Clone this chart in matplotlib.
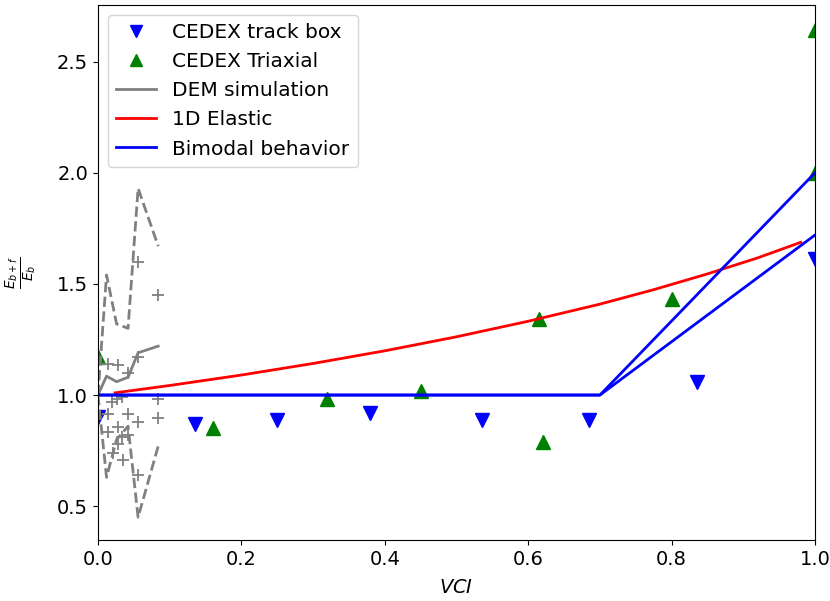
import numpy as np
import matplotlib
matplotlib.use('Agg')
import matplotlib.pyplot as plt

# CEDEX measurements
track_vci = [0.0, 0.135, 0.25, 0.38, 0.535, 0.685, 0.835, 1.0]
track_ratio = [0.90, 0.87, 0.89, 0.92, 0.89, 0.89, 1.06, 1.61]
triax_vci = [0.0, 0.16, 0.32, 0.45, 0.615, 0.62, 0.80, 1.0, 1.0]
triax_ratio = [1.17, 0.85, 0.98, 1.02, 1.34, 0.79, 1.43, 2.0, 2.64]

# DEM simulation: mean and std
dem_vci = [0.0, 0.012, 0.026, 0.042, 0.056, 0.084]
dem_mean = [1.0, 1.085, 1.06, 1.08, 1.19, 1.22]
dem_std = [0.0, 0.455, 0.26, 0.22, 0.74, 0.45]
# DEM single runs
dem_runs_vci = [0.014, 0.028, 0.042, 0.056, 0.084, 0.056,
                0.019, 0.026, 0.033, 0.084, 0.014, 0.042, 0.056, 0.084,
                0.014, 0.028, 0.033, 0.042, 0.028, 0.021, 0.035, 0.056]
dem_runs_ratio = [1.14, 1.135, 1.10, 1.17, 1.45, 1.60,
                  0.97, 0.98, 0.99, 0.98, 0.915, 0.915, 0.88, 0.895,
                  0.835, 0.855, 0.81, 0.82, 0.78, 0.74, 0.71, 0.64]

# 1D elastic model
elastic_vci = [0.024, 0.1, 0.2, 0.3, 0.4, 0.5, 0.6, 0.7, 0.775, 0.85, 0.92, 0.98]
elastic_ratio = [1.010, 1.043, 1.090, 1.142, 1.199, 1.262, 1.332, 1.409, 1.474, 1.545, 1.617, 1.687]

# bimodal behaviour
bimodal_vci = [0.0, 0.7, 1.0]
bimodal_hi = [1.0, 1.0, 2.0]
bimodal_lo = [1.0, 1.0, 1.72]

plt.rcParams['font.size'] = 14

fig = plt.figure(figsize=(8.3, 6.01), dpi=100)
ax = fig.add_axes([0.118, 0.1015, 0.864, 0.89])

ax.plot(track_vci, track_ratio, 'v', color='blue', markersize=10, label='CEDEX track box')
ax.plot(triax_vci, triax_ratio, '^', color='green', markersize=10, label='CEDEX Triaxial')

mean = np.array(dem_mean)
std = np.array(dem_std)
ax.plot(dem_vci, mean, '-', color='gray', lw=2, label='DEM simulation')
ax.plot(dem_vci, mean + std, '--', color='gray', lw=2)
ax.plot(dem_vci, mean - std, '--', color='gray', lw=2)
ax.plot(dem_runs_vci, dem_runs_ratio, '+', color='gray', markersize=9, mew=1.3)

ax.plot(elastic_vci, elastic_ratio, '-', color='red', lw=2, label='1D Elastic')
ax.plot(bimodal_vci, bimodal_hi, '-', color='blue', lw=2, label='Bimodal behavior')
ax.plot(bimodal_vci, bimodal_lo, '-', color='blue', lw=2)

ax.set_xlim(0, 1)
ax.set_ylim(0.348, 2.754)
ax.set_xticks([0.0, 0.2, 0.4, 0.6, 0.8, 1.0])
ax.set_yticks([0.5, 1.0, 1.5, 2.0, 2.5])
ax.set_xlabel('$VCI$', labelpad=7)
ax.set_ylabel(r'$\frac{E_{b+f}}{E_b}$', labelpad=14)
ax.legend(loc='upper left', numpoints=1, fontsize=14.5, markerscale=0.85)

plt.savefig('out.png', dpi=100)
